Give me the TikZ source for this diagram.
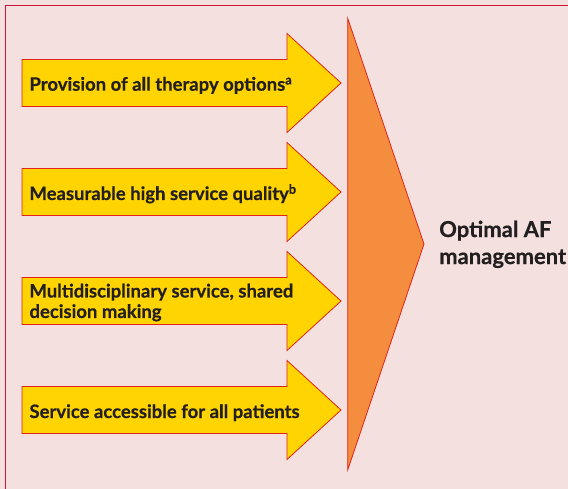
\documentclass[tikz,border=0pt]{standalone}
\usepackage{fontspec}
\setmainfont{Lato}[BoldFeatures={FakeBold=0.5}]
\definecolor{bgpink}{HTML}{F4E1DF}
\definecolor{framered}{HTML}{C8163C}
\definecolor{edgered}{HTML}{E2231A}
\definecolor{arrowyellow}{HTML}{FFD400}
\definecolor{triorange}{HTML}{F58D3E}
\definecolor{textgrey}{HTML}{231F20}
\tikzset{
  arrowshape/.style={fill=arrowyellow, draw=edgered, line width=0.8pt, line join=miter},
  trishape/.style={fill=triorange, draw=edgered, line width=0.8pt},
  arrowtext/.style={anchor=base west, inner sep=0pt, text=textgrey, font=\bfseries\fontsize{18.5}{20.5}\selectfont, align=left},
  goaltext/.style={anchor=north west, inner sep=0pt, text=textgrey, font=\bfseries\fontsize{22}{27}\selectfont, align=left}
}
\begin{document}
\begin{tikzpicture}[x=1pt,y=-1pt]
\useasboundingbox (0,0) rectangle (568,489);
\fill[bgpink] (0,0) rectangle (568,489);
\draw[framered, line width=1.3pt, fill=bgpink] (5.3,5.3) rectangle (580,500);
\foreach \c in {83,192,301,410}{
  \draw[arrowshape] (22,\c-23.5) -- (287,\c-23.5) -- (287,\c-49.5) -- (341,\c) -- (287,\c+49.5) -- (287,\c+23.5) -- (22,\c+23.5) -- cycle;
}
\draw[trishape] (347.7,18.3) -- (424,244) -- (347.7,470) -- cycle;
\node[arrowtext] (t1) at (29.3,90.7) {Provision of all therapy options\textsuperscript{a}};
\node[arrowtext] (t2) at (29.3,200) {Measurable high service quality\textsuperscript{b}};
\node[arrowtext, anchor=west] (t3) at (29.3,302.5) {Multidisciplinary service, shared\\decision making};
\node[arrowtext] (t4) at (29.3,418) {Service accessible for all patients};
\node[goaltext] (goal) at (439,220.5) {Optimal AF\\management};
\end{tikzpicture}
\end{document}
